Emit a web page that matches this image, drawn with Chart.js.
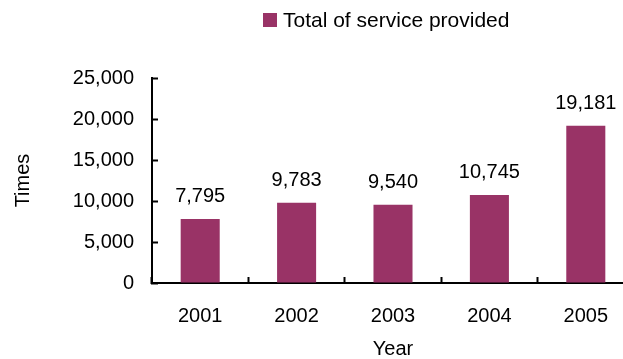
<!DOCTYPE html>
<html>
<head>
<meta charset="utf-8">
<script src="https://cdn.jsdelivr.net/npm/chart.js@4"></script>
<style>
  html, body { margin: 0; padding: 0; background: #fff; overflow: hidden; }
  #wrap { width: 623px; height: 359px; overflow: hidden; position: relative; }
  canvas { display: block; }
</style>
</head>
<body>
<div id="wrap"><canvas id="c" width="660" height="359"></canvas></div>
<script>
const categories = ['2001', '2002', '2003', '2004', '2005'];
const serviceTotals = [7795, 9783, 9540, 10745, 19181];
const seriesLabel = 'Total of service provided';
const yTicks = [0, 5000, 10000, 15000, 20000, 25000];
const xTitle = 'Year';
const yTitle = 'Times';

const FONT = "'Liberation Sans', Arial, sans-serif";
const BAR = '#993366';

const fmt = v => v.toLocaleString('en-US');

const labelPlugin = {
  id: 'valueLabels',
  afterDatasetsDraw(chart) {
    const ctx = chart.ctx;
    const meta = chart.getDatasetMeta(0);
    ctx.save();
    ctx.font = '20px ' + FONT;
    ctx.fillStyle = '#000';
    ctx.textAlign = 'center';
    ctx.textBaseline = 'alphabetic';
    meta.data.forEach((bar, i) => {
      ctx.fillText(fmt(chart.data.datasets[0].data[i]), bar.x, bar.y - 17);
    });
    ctx.restore();
  }
};

const legendPlugin = {
  id: 'customLegend',
  afterDraw(chart) {
    const ctx = chart.ctx;
    ctx.save();
    ctx.fillStyle = BAR;
    ctx.fillRect(263, 13, 14, 14);
    ctx.fillStyle = '#000';
    ctx.font = '21px ' + FONT;
    ctx.textAlign = 'left';
    ctx.textBaseline = 'alphabetic';
    ctx.fillText(chart.data.datasets[0].label, 283, 27);
    ctx.restore();
  }
};

new Chart(document.getElementById('c'), {
  type: 'bar',
  data: {
    labels: categories,
    datasets: [{
      label: seriesLabel,
      data: serviceTotals,
      backgroundColor: BAR,
      borderWidth: 0,
      categoryPercentage: 1,
      barPercentage: 0.405
    }]
  },
  options: {
    responsive: false,
    animation: false,
    layout: { padding: { left: 0, right: 26, top: 78, bottom: 0 } },
    plugins: {
      legend: { display: false },
      tooltip: { enabled: false }
    },
    scales: {
      x: {
        afterFit(s) { s.height = 76; },
        grid: {
          display: true,
          drawOnChartArea: false,
          drawTicks: true,
          tickLength: -6,
          tickWidth: 2,
          tickColor: '#000',
          offset: true
        },
        border: { display: true, color: '#000', width: 2 },
        ticks: {
          color: '#000',
          font: { family: FONT, size: 20 },
          padding: 27,
          maxRotation: 0
        },
        title: {
          display: true,
          text: xTitle,
          color: '#000',
          font: { family: FONT, size: 20, lineHeight: 1 },
          padding: { top: 0, bottom: 0 }
        }
      },
      y: {
        min: 0,
        max: 25000,
        afterFit(s) { s.width = 152; },
        afterBuildTicks(s) { s.ticks = yTicks.map(v => ({ value: v })); },
        grid: {
          display: true,
          drawOnChartArea: false,
          drawTicks: true,
          tickLength: -6,
          tickWidth: 2,
          tickColor: '#000'
        },
        border: { display: true, color: '#000', width: 2 },
        ticks: {
          color: '#000',
          font: { family: FONT, size: 20 },
          padding: 24,
          callback: v => fmt(v)
        },
        title: {
          display: true,
          text: yTitle,
          color: '#000',
          font: { family: FONT, size: 20, lineHeight: 1 },
          padding: { top: 13, bottom: 0 }
        }
      }
    }
  },
  plugins: [labelPlugin, legendPlugin]
});
</script>
</body>
</html>
